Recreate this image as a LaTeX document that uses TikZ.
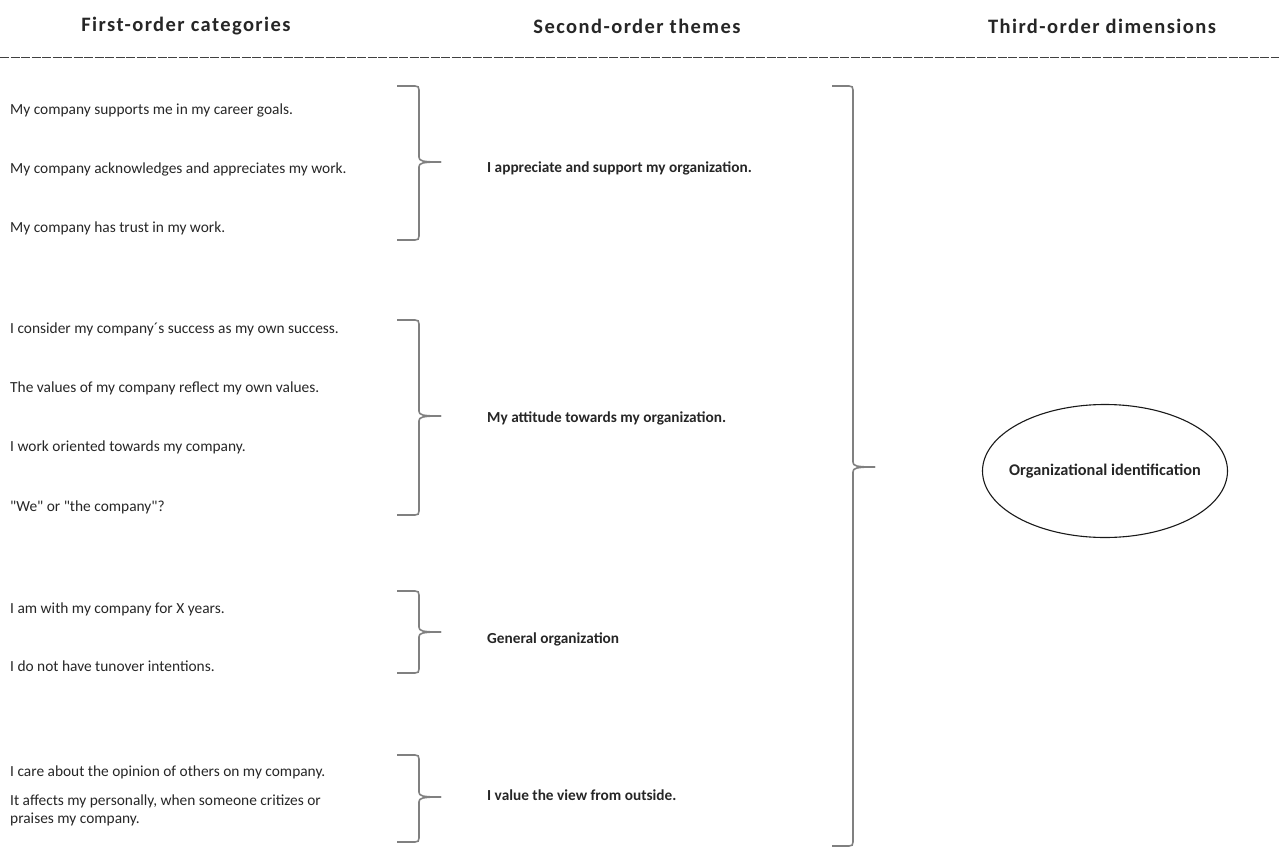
\documentclass[tikz,border=0pt]{standalone}
\usepackage{fontspec}
\setmainfont{Carlito}
\usetikzlibrary{shapes.geometric}
\newcommand\sq{\XeTeXglyph\XeTeXcharglyph"22\relax}
\tikzset{
  head/.style={anchor=center, font=\fontsize{20.5}{24}\selectfont\bfseries\addfontfeature{LetterSpace=7}, text=black!85},
  first/.style={anchor=base west, font=\fontsize{15.4}{18}\selectfont, text=black!85, align=left, inner sep=0pt},
  theme/.style={anchor=base west, font=\fontsize{15.3}{18}\selectfont\bfseries, text=black!85, inner sep=0pt},
  bracestyle/.style={draw=black!50, line width=1.6pt},
  dimnode/.style={ellipse, draw=black!90, line width=1.1pt, inner xsep=-14pt, inner ysep=0pt, minimum width=245pt, minimum height=133pt, font=\fontsize{16.3}{19}\selectfont\bfseries, text=black!85},
}
\newcommand\rbr[6]{%
  \draw[bracestyle] (#1,#4) -- (#2-4,#4) .. controls (#2-1,#4) and (#2,#4+1) .. (#2,#4+4) -- (#2,#5-5) .. controls (#2,#5-1) and (#2+3,#5) .. (#3,#5);
  \draw[bracestyle] (#1,#6) -- (#2-4,#6) .. controls (#2-1,#6) and (#2,#6-1) .. (#2,#6-4) -- (#2,#5+5) .. controls (#2,#5+1) and (#2+3,#5) .. (#3,#5);
}
\begin{document}
\begin{tikzpicture}[x={(1pt,0pt)}, y={(0pt,-1pt)}]
\useasboundingbox (0,0) rectangle (1279,848);
% headers
\node[head] (h1) at (186,26) {First-order categories};
\node[head] (h2) at (637,26) {Second-order themes};
\node[head] (h3) at (1102,26) {Third-order dimensions};
\draw[black!75, line width=0.9pt, dash pattern=on 9pt off 1.5pt] (0,57) coordinate (dl) -- (1279,57) coordinate (dr);
% first-order categories
\node[first] (f1) at (10,115) {My company supports me in my career goals.};
\node[first] (f2) at (10,173) {My company acknowledges and appreciates my work.};
\node[first] (f3) at (10,232) {My company has trust in my work.};
\node[first] (f4) at (10,333) {I consider my company\char"B4 s success as my own success.};
\node[first] (f5) at (10,392) {The values of my company reflect my own values.};
\node[first] (f6) at (10,451) {I work oriented towards my company.};
\node[first] (f7) at (10,511) {\sq We\sq\ or \sq the company\sq ?};
\node[first] (f8) at (10,613) {I am with my company for X years.};
\node[first] (f9) at (10,671) {I do not have tunover intentions.};
\node[first] (f10) at (10,776) {I care about the opinion of others on my company.};
\node[first] (f11) at (10,823) {It affects my personally, when someone critizes or\\praises my company.};
% themes
\node[theme] (t1) at (487,172) {I appreciate and support my organization.};
\node[theme] (t2) at (487,422) {My attitude towards my organization.};
\node[theme] (t3) at (487,643) {General organization};
\node[theme] (t4) at (487,800) {I value the view from outside.};
% braces
\rbr{397}{419}{441}{86}{162}{240}
\rbr{397}{419}{441}{320}{416}{515}
\rbr{397}{419}{441}{591}{632}{673}
\rbr{397}{419}{441}{755}{797}{842}
\rbr{832}{853}{875}{86}{467}{846}
% dimension
\node[dimnode] (oi) at (1105,471) {Organizational identification};
\end{tikzpicture}
\end{document}
